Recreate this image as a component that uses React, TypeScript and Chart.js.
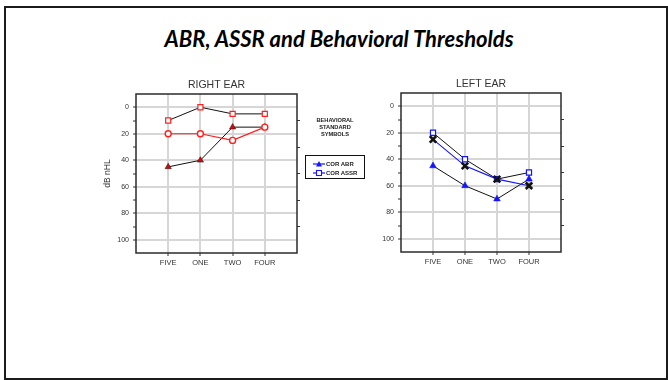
import { useEffect, useRef } from 'react';
import { Chart, registerables } from 'chart.js';

Chart.register(...registerables);

// Frequencies (kHz words) along the x axis
const categories = ['FIVE', 'ONE', 'TWO', 'FOUR'];

// Hearing level axis: labelled values, minor tick values, right-side tick values
const dbLabels = [0, 20, 40, 60, 80, 100];
const dbTicks = [0, 10, 20, 30, 40, 50, 60, 70, 80, 90, 100];
const dbOddTicks = [10, 30, 50, 70, 90];

// Right ear thresholds (dB nHL)
const rightAssr = [10, 0, 5, 5];
const rightBehavioral = [20, 20, 25, 15];
const rightAbr = [45, 40, 15, 15];

// Left ear thresholds (dB nHL)
const leftBehavioral = [25, 45, 55, 60];
const leftAssr = [20, 40, 55, 50];
const leftAbr = [45, 60, 70, 55];

const FONT = '"Liberation Sans", Arial, Helvetica, sans-serif';
const AXIS_SIDE = 46;
const AXIS_BOTTOM = 19;
const GRID = '#d6d6d6';
const INK = '#333333';

const toPoints = (vals: number[]) => vals.map((y, x) => ({ x, y }));

// Outline of the plotting area, drawn under the data
const plotFrame = {
  id: 'plotFrame',
  beforeDatasetsDraw(chart: any) {
    const { ctx, chartArea: a } = chart;
    ctx.save();
    ctx.strokeStyle = '#2b2b2b';
    ctx.lineWidth = 1.5;
    ctx.strokeRect(a.left, a.top, a.right - a.left, a.bottom - a.top);
    ctx.restore();
  },
};

function makeOptions(title: string, yTitle: string | null): any {
  return {
    responsive: false,
    animation: false,
    events: [],
    devicePixelRatio: 1,
    layout: { padding: 0 },
    elements: { line: { tension: 0 } },
    plugins: {
      legend: { display: false },
      tooltip: { enabled: false },
      title: {
        display: true,
        text: title,
        color: INK,
        font: { family: FONT, size: 10.5, weight: 'normal' },
        padding: { top: 6.7, bottom: 2.7 },
      },
    },
    scales: {
      x: {
        type: 'linear',
        min: -1,
        max: 4,
        afterBuildTicks: (s: any) => {
          s.ticks = categories.map((_, i) => ({ value: i }));
        },
        afterFit: (s: any) => {
          s.height = AXIS_BOTTOM;
        },
        ticks: {
          callback: (v: number) => categories[v] ?? '',
          font: { family: FONT, size: 7.5 },
          color: INK,
          padding: 2,
          maxRotation: 0,
          autoSkip: false,
        },
        grid: { color: GRID, lineWidth: 2, tickColor: INK, tickLength: 3, tickWidth: 1 },
        border: { display: false },
      },
      y: {
        type: 'linear',
        position: 'left',
        reverse: true,
        min: -10,
        max: 110,
        afterBuildTicks: (s: any) => {
          s.ticks = dbTicks.map((value) => ({ value }));
        },
        afterFit: (s: any) => {
          s.width = AXIS_SIDE;
        },
        ticks: {
          callback: (v: number) => (dbLabels.includes(v) ? String(v) : ''),
          font: { family: FONT, size: 7 },
          color: INK,
          padding: 4,
          autoSkip: false,
        },
        grid: {
          color: (c: any) => (c.tick && dbLabels.includes(c.tick.value) ? GRID : 'rgba(0,0,0,0)'),
          lineWidth: 2,
          tickColor: INK,
          tickLength: 3,
          tickWidth: 1,
        },
        border: { display: false },
        title: yTitle
          ? {
              display: true,
              text: yTitle,
              color: INK,
              font: { family: FONT, size: 8.5 },
              padding: { top: 13, bottom: 0 },
            }
          : { display: false },
      },
      y2: {
        type: 'linear',
        position: 'right',
        reverse: true,
        min: -10,
        max: 110,
        afterBuildTicks: (s: any) => {
          s.ticks = dbOddTicks.map((value) => ({ value }));
        },
        afterFit: (s: any) => {
          s.width = AXIS_SIDE;
        },
        ticks: { display: false },
        grid: { drawOnChartArea: false, tickColor: INK, tickLength: 3, tickWidth: 1 },
        border: { display: false },
      },
    },
  };
}

const RED = '#ff1f1f';
const BLUE = '#1414ff';
const BLACK = '#111111';

function LegendIcon({ kind }: { kind: 'triangle' | 'square' }) {
  return (
    <svg width={12} height={8} style={{ display: 'block' }}>
      <line x1={0} y1={4} x2={12} y2={4} stroke={BLUE} strokeWidth={1.2} />
      {kind === 'triangle' ? (
        <polygon points="6,1 9,6.5 3,6.5" fill={BLUE} />
      ) : (
        <rect x={3.5} y={1.5} width={5} height={5} fill="#fff" stroke={BLUE} strokeWidth={1.1} />
      )}
    </svg>
  );
}

export default function App() {
  const rightRef = useRef<HTMLCanvasElement>(null);
  const leftRef = useRef<HTMLCanvasElement>(null);

  useEffect(() => {
    const right = new Chart(rightRef.current as HTMLCanvasElement, {
      type: 'line',
      data: {
        datasets: [
          {
            label: 'Behavioral',
            data: toPoints(rightBehavioral),
            borderColor: RED,
            borderWidth: 1.2,
            pointStyle: 'circle',
            pointRadius: 3,
            pointBorderColor: RED,
            pointBackgroundColor: '#ffffff',
            pointBorderWidth: 1.4,
          },
          {
            label: 'COR ASSR',
            data: toPoints(rightAssr),
            borderColor: BLACK,
            borderWidth: 1,
            pointStyle: 'rect',
            pointRadius: 3.6,
            pointBorderColor: RED,
            pointBackgroundColor: '#ffffff',
            pointBorderWidth: 1.2,
          },
          {
            label: 'COR ABR',
            data: toPoints(rightAbr),
            borderColor: BLACK,
            borderWidth: 1,
            pointStyle: 'triangle',
            pointRadius: 3.6,
            pointBorderColor: '#222',
            pointBackgroundColor: '#e80000',
            pointBorderWidth: 0.6,
          },
        ] as any,
      },
      options: makeOptions('RIGHT EAR', 'dB nHL'),
      plugins: [plotFrame],
    });

    const left = new Chart(leftRef.current as HTMLCanvasElement, {
      type: 'line',
      data: {
        datasets: [
          {
            label: 'Behavioral',
            data: toPoints(leftBehavioral),
            borderColor: BLUE,
            borderWidth: 1.1,
            pointStyle: 'crossRot',
            pointRadius: 4.6,
            pointBorderColor: BLACK,
            pointBorderWidth: 2.6,
          },
          {
            label: 'COR ASSR',
            data: toPoints(leftAssr),
            borderColor: BLACK,
            borderWidth: 1,
            pointStyle: 'rect',
            pointRadius: 3.6,
            pointBorderColor: BLUE,
            pointBackgroundColor: '#ffffff',
            pointBorderWidth: 1.2,
          },
          {
            label: 'COR ABR',
            data: toPoints(leftAbr),
            borderColor: BLACK,
            borderWidth: 1,
            pointStyle: 'triangle',
            pointRadius: 3.8,
            pointBorderColor: BLUE,
            pointBackgroundColor: BLUE,
            pointBorderWidth: 0.6,
          },
        ] as any,
      },
      options: makeOptions('LEFT EAR', null),
      plugins: [plotFrame],
    });

    return () => {
      right.destroy();
      left.destroy();
    };
  }, []);

  return (
    <div
      style={{
        position: 'fixed',
        left: 0,
        top: 0,
        width: 668,
        height: 380,
        background: '#ffffff',
        overflow: 'hidden',
        fontFamily: FONT,
      }}
    >
      <div
        style={{
          position: 'absolute',
          left: 4,
          top: 6,
          width: 664,
          height: 374,
          boxSizing: 'border-box',
          border: '2px solid #1c1c1c',
        }}
      />
      <div
        style={{
          position: 'absolute',
          left: 339,
          top: 25.5,
          transform: 'translateX(-50%)',
          whiteSpace: 'nowrap',
          font: 'italic 700 22px Lato, sans-serif',
          lineHeight: '26px',
          color: '#000',
        }}
      >
        ABR, ASSR and Behavioral Thresholds
      </div>

      <canvas
        ref={rightRef}
        width={253}
        height={200}
        style={{ position: 'absolute', left: 90, top: 72, width: 253, height: 200 }}
      />
      <canvas
        ref={leftRef}
        width={252}
        height={200}
        style={{ position: 'absolute', left: 355, top: 71, width: 252, height: 200 }}
      />

      <div
        style={{
          position: 'absolute',
          left: 300,
          top: 116.5,
          width: 70,
          textAlign: 'center',
          font: `bold 5.7px ${FONT}`,
          lineHeight: '7px',
          color: '#222',
          zIndex: 2,
        }}
      >
        BEHAVIORAL
        <br />
        STANDARD
        <br />
        SYMBOLS
      </div>

      <div
        style={{
          position: 'absolute',
          left: 305,
          top: 155,
          width: 60,
          height: 24,
          boxSizing: 'border-box',
          border: '1px solid #111',
          background: '#fff',
          zIndex: 2,
          paddingTop: 4,
          paddingLeft: 7,
        }}
      >
        {[
          { kind: 'triangle' as const, text: 'COR ABR' },
          { kind: 'square' as const, text: 'COR ASSR' },
        ].map((row) => (
          <div key={row.text} style={{ display: 'flex', alignItems: 'center', height: 8.4 }}>
            <LegendIcon kind={row.kind} />
            <span style={{ font: `bold 6px ${FONT}`, color: '#222', marginLeft: 1, whiteSpace: 'nowrap' }}>
              {row.text}
            </span>
          </div>
        ))}
      </div>
    </div>
  );
}
